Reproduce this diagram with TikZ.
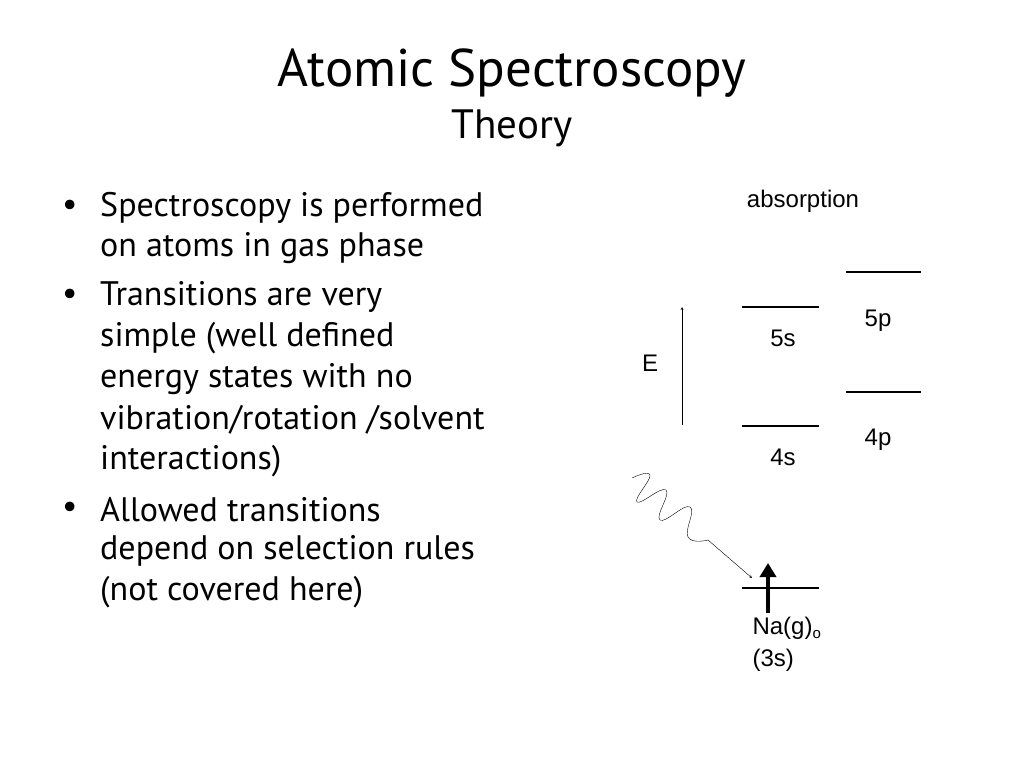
\documentclass[tikz,border=0pt]{standalone}
\usetikzlibrary{arrows.meta}
\usepackage{fontspec}
\setmainfont{PT Sans}
\newfontfamily\arialf{Liberation Sans}
\begin{document}
\begin{tikzpicture}[x=1pt,y=-1pt,
  lvl/.style={line width=2.2pt},
  lab/.style={font=\arialf\fontsize{24}{26}\selectfont},
  btxt/.style={anchor=west,font=\fontsize{34}{38}\selectfont,inner sep=0}]
\useasboundingbox[fill=white] (0,0) rectangle (1024,768);
\node (t1) at (512,73) {\fontsize{53}{56}\selectfont Atomic Spectroscopy};
\node (t2) at (512,128) {\fontsize{41}{44}\selectfont Theory};
\foreach \y/\t in {208/Spectroscopy is performed,248/on atoms in gas phase,297/Transitions are very,338/simple (well defined,379/energy states with no,420/{vibration/rotation /solvent},461/interactions),510/Allowed transitions,551/depend on selection rules,592/(not covered here)}
  \node[btxt] at (100,\y) {\t};
\foreach \y in {208,297,510} \node[btxt] at (62,\y) {•};
\node[lab] (abs) at (803,201) {absorption};
\coordinate (p5a) at (846,272); \coordinate (p5b) at (921,272);
\coordinate (s5a) at (742,307); \coordinate (s5b) at (819,307);
\coordinate (p4a) at (846,392); \coordinate (p4b) at (921,392);
\coordinate (s4a) at (742,426); \coordinate (s4b) at (819,426);
\coordinate (s3a) at (742,588); \coordinate (s3b) at (819,588);
\foreach \a/\b in {p5a/p5b,s5a/s5b,p4a/p4b,s4a/s4b,s3a/s3b} \draw[lvl] (\a) -- (\b);
\node[lab] (l5s) at (783,338) {5s};
\node[lab] (l5p) at (878,321) {5p};
\node[lab] (l4s) at (783,457) {4s};
\node[lab] (l4p) at (878,440) {4p};
\node[lab] (lE) at (650,363) {E};
\coordinate (e0) at (682,425); \coordinate (e1) at (682,307);
\draw[-stealth] (e0) -- (e1);
\coordinate (u0) at (768,613); \coordinate (u1) at (768,563);
\draw[line width=4pt,-{Triangle[length=14pt,width=16pt]}] (u0) -- (u1);
\node[lab,anchor=west] (na) at (749,628) {Na(g)\raisebox{-0.3ex}{\fontsize{15}{16}\selectfont o}};
\node[lab,anchor=west] (s3) at (749,660) {(3s)};
\coordinate (w0) at (632,478); \coordinate (w1) at (708,540); \coordinate (w2) at (752,578);
\draw[thin] plot[smooth,tension=0.8] coordinates {(w0) (650,475) (637,502) (666,490) (660,520) (690,507) (688,537) (w1)};
\draw[thin,-stealth] (w1) -- (w2);
\end{tikzpicture}
\end{document}
